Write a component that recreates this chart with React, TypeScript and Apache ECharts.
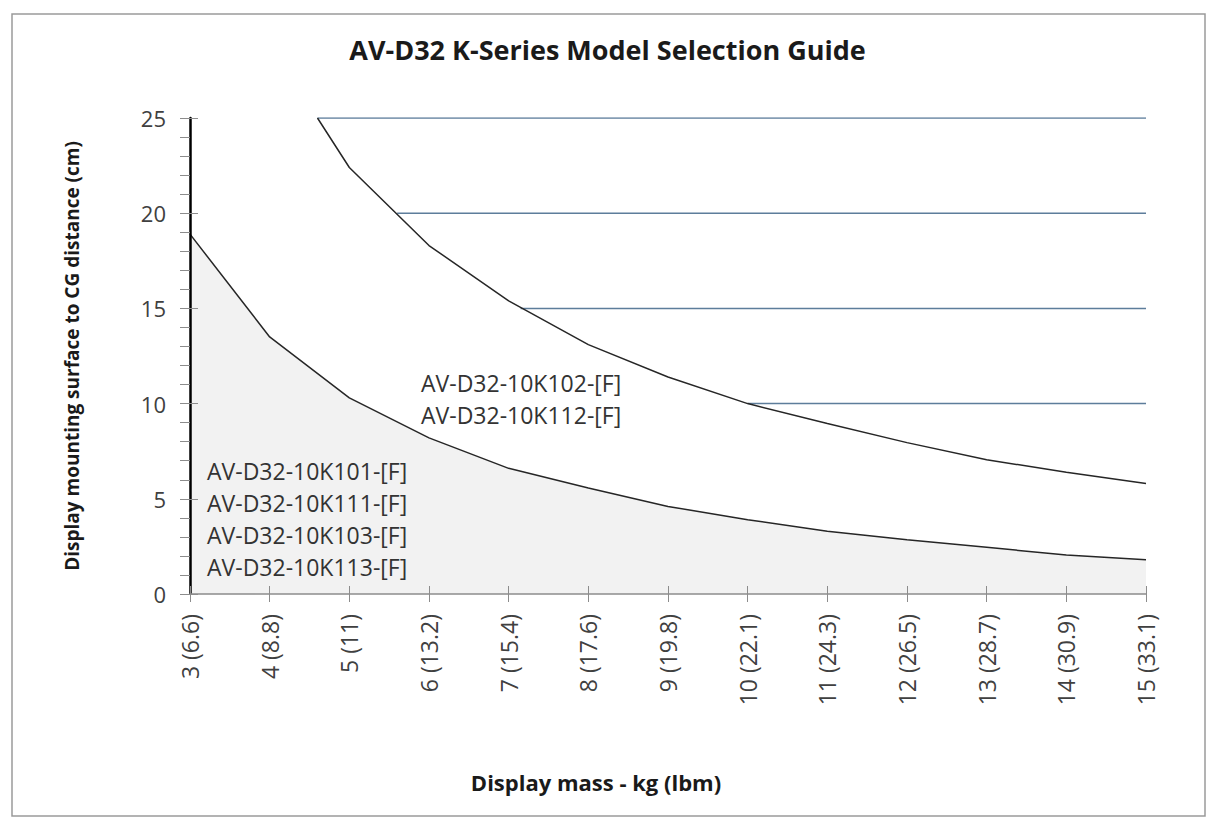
import React, { useEffect, useRef } from "react";
import * as echarts from "echarts";

// ---- data ----
const xTickLabels = [
  "3 (6.6)", "4 (8.8)", "5 (11)", "6 (13.2)", "7 (15.4)", "8 (17.6)", "9 (19.8)",
  "10 (22.1)", "11 (24.3)", "12 (26.5)", "13 (28.7)", "14 (30.9)", "15 (33.1)",
];
const lowerX = [3, 4, 5, 6, 7, 8, 9, 10, 11, 12, 13, 14, 15];
const lowerY = [18.9, 13.5, 10.3, 8.2, 6.6, 5.57, 4.6, 3.9, 3.3, 2.85, 2.45, 2.05, 1.8];
const upperX = [4.6, 5, 6, 7, 8, 9, 10, 11, 12, 13, 14, 15];
const upperY = [25, 22.4, 18.3, 15.4, 13.1, 11.4, 10.0, 8.95, 7.95, 7.05, 6.4, 5.8];
const levelValues = [25, 20, 15, 10];
const levelStarts = [4.6, 5.6, 7.15, 10.0];
const levelEnd = 15;
const upperModels = ["AV-D32-10K102-[F]", "AV-D32-10K112-[F]"];
const lowerModels = ["AV-D32-10K101-[F]", "AV-D32-10K111-[F]", "AV-D32-10K103-[F]", "AV-D32-10K113-[F]"];
const xAxisTitle = "Display mass - kg (lbm)";
const yAxisTitle = "Display mounting surface to CG distance (cm)";
const chartTitle = "AV-D32 K-Series Model Selection Guide";

const FONT = "Open Sans";

export default function App() {
  const ref = useRef<HTMLDivElement>(null);
  useEffect(() => {
    if (!ref.current) return;
    const chart = echarts.init(ref.current, undefined, { renderer: "svg" });
    const lineColor = "#262626";
    const levelColor = "#5d7d9b";
    const tickColor = "#8c8c8c";

    const levelSeries = levelValues.map((v, i) => ({
      type: "line",
      data: [[levelStarts[i], v], [levelEnd, v]],
      symbol: "none",
      lineStyle: { color: levelColor, width: 1.5 },
      z: 3,
    }));

    const graphics: any[] = [
      {
        type: "rect",
        shape: { x: 12, y: 14, width: 1193, height: 802 },
        style: { fill: "none", stroke: "#9a9a9a", lineWidth: 1.5 },
        silent: true,
        z: 100,
      },
      {
        type: "text",
        x: 596,
        y: 782,
        z: 100,
        style: {
          text: xAxisTitle,
          fontSize: 22,
          fontWeight: "bold",
          fontFamily: FONT,
          fill: "#1a1a1a",
          align: "center",
          verticalAlign: "middle",
        },
      },
    ];
    upperModels.forEach((t, i) => {
      graphics.push({
        type: "text",
        x: 421,
        y: 383 + i * 32,
        z: 100,
        style: { text: t, fontSize: 23, fontFamily: FONT, fill: "#333", verticalAlign: "middle" },
      });
    });
    lowerModels.forEach((t, i) => {
      graphics.push({
        type: "text",
        x: 207,
        y: 471 + i * 32,
        z: 100,
        style: { text: t, fontSize: 23, fontFamily: FONT, fill: "#333", verticalAlign: "middle" },
      });
    });

    chart.setOption({
      animation: false,
      backgroundColor: "#fff",
      title: {
        text: chartTitle,
        left: "center",
        top: 31,
        textStyle: { fontFamily: FONT, fontWeight: "bold", fontSize: 27, color: "#1a1a1a" },
      },
      grid: { left: 190, right: 69, top: 118, bottom: 233, containLabel: false },
      xAxis: [
        {
          type: "value",
          min: 3,
          max: 15,
          interval: 1,
          z: 10,
          axisLine: { show: true, lineStyle: { color: tickColor, width: 1.5 } },
          axisTick: { show: true, length: 8, lineStyle: { color: tickColor } },
          splitLine: { show: false },
          axisLabel: {
            rotate: 90,
            margin: 20,
            fontSize: 23,
            fontFamily: FONT,
            color: "#404040",
            formatter: (v: number) => xTickLabels[Math.round(v) - 3] ?? "",
          },
        },
        {
          type: "value",
          min: 3,
          max: 15,
          interval: 1,
          position: "bottom",
          z: 10,
          axisLine: { show: false },
          axisTick: { show: true, inside: true, length: 8, lineStyle: { color: tickColor } },
          axisLabel: { show: false },
          splitLine: { show: false },
        },
      ],
      yAxis: [
        {
          type: "value",
          min: 0,
          max: 25,
          interval: 5,
          z: 10,
          axisLine: { show: true, lineStyle: { color: "#000", width: 2.5 } },
          axisTick: { show: true, length: 10, lineStyle: { color: tickColor } },
          minorTick: { show: true, splitNumber: 5, length: 10, lineStyle: { color: tickColor } },
          splitLine: { show: false },
          axisLabel: { margin: 24, fontSize: 22, fontFamily: FONT, color: "#404040" },
          name: yAxisTitle,
          nameLocation: "middle",
          nameGap: 109,
          nameTextStyle: { fontFamily: FONT, fontWeight: "bold", fontSize: 19, color: "#1a1a1a" },
        },
        {
          type: "value",
          min: 0,
          max: 25,
          interval: 5,
          position: "left",
          z: 10,
          axisLine: { show: false },
          axisTick: { show: true, inside: true, length: 8, lineStyle: { color: tickColor } },
          axisLabel: { show: false },
          splitLine: { show: false },
        },
      ],
      series: [
        {
          type: "line",
          data: lowerX.map((x, i) => [x, lowerY[i]]),
          symbol: "none",
          lineStyle: { color: lineColor, width: 1.5 },
          areaStyle: { color: "#f2f2f2", opacity: 1 },
          z: 2,
        },
        {
          type: "line",
          data: upperX.map((x, i) => [x, upperY[i]]),
          symbol: "none",
          lineStyle: { color: lineColor, width: 1.5 },
          z: 4,
        },
        ...levelSeries,
      ],
      graphic: graphics,
    });
    return () => chart.dispose();
  }, []);
  return (
    <div
      ref={ref}
      style={{ position: "fixed", left: 0, top: 0, width: 1215, height: 827, background: "#fff" }}
    />
  );
}
